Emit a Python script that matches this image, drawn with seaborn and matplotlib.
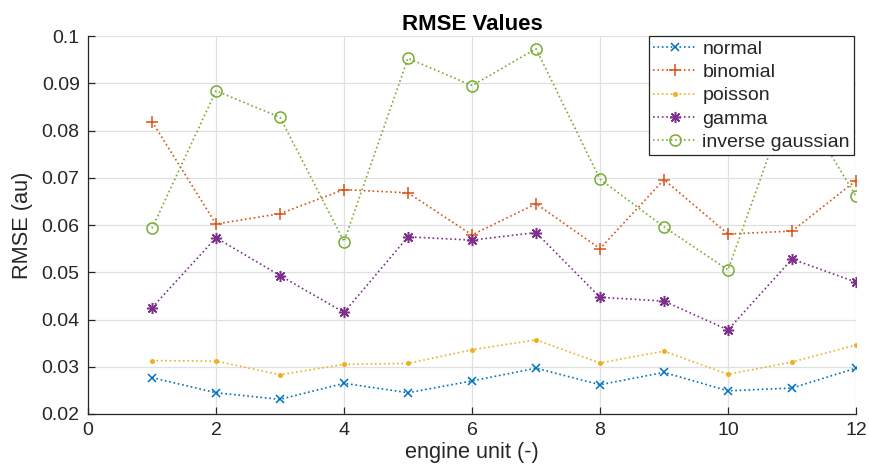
import matplotlib
matplotlib.use("Agg")
import matplotlib.pyplot as plt
from matplotlib.ticker import FuncFormatter
import seaborn as sns
import pandas as pd

units = [1, 2, 3, 4, 5, 6, 7, 8, 9, 10, 11, 12]
normal = [0.0277, 0.0245, 0.0231, 0.0265, 0.0245, 0.0270, 0.0297, 0.0262, 0.0288, 0.0249, 0.0255, 0.0297]
binomial = [0.0819, 0.0602, 0.0624, 0.0675, 0.0668, 0.0579, 0.0645, 0.0550, 0.0696, 0.0581, 0.0587, 0.0694]
poisson = [0.0313, 0.0312, 0.0283, 0.0305, 0.0307, 0.0336, 0.0357, 0.0308, 0.0333, 0.0284, 0.0310, 0.0346]
gamma = [0.0425, 0.0573, 0.0493, 0.0415, 0.0575, 0.0568, 0.0584, 0.0447, 0.0439, 0.0378, 0.0528, 0.0479]
inverse_gaussian = [0.0593, 0.0884, 0.0828, 0.0565, 0.0953, 0.0895, 0.0973, 0.0697, 0.0596, 0.0505, 0.0885, 0.0661]

series_names = ["normal", "binomial", "poisson", "gamma", "inverse gaussian"]
series_values = [normal, binomial, poisson, gamma, inverse_gaussian]
x_ticks = [0, 2, 4, 6, 8, 10, 12]
y_ticks = [0.02, 0.03, 0.04, 0.05, 0.06, 0.07, 0.08, 0.09, 0.1]

colors = ["#0072BD", "#D95319", "#EDB120", "#7E2F8E", "#77AC30"]
# x, plus, point, eight-spoke asterisk, open circle
markers = ["x", "+", ".", (8, 2, 0), "o"]
msizes = [6, 9, 5, 8, 8]

df = pd.concat(
    [pd.DataFrame({"unit": units, "rmse": v, "dist": n}) for n, v in zip(series_names, series_values)],
    ignore_index=True,
)

sns.set_theme(style="white")
plt.rcParams["font.family"] = ["Liberation Sans", "DejaVu Sans"]

fig = plt.figure(figsize=(8.7, 4.76), dpi=100)
ax = fig.add_axes([88 / 870, 1 - 414 / 476, (856 - 88) / 870, (414 - 36) / 476])

for name, c, m, ms in zip(series_names, colors, markers, msizes):
    sub = df[df["dist"] == name]
    sns.lineplot(
        data=sub, x="unit", y="rmse", ax=ax, color=c, linestyle=":", linewidth=1.2,
        marker=m, markersize=ms, markeredgewidth=1.1, markerfacecolor="none" if m == "o" else c,
        markeredgecolor=c, label=name,
    )

ax.set_xlim(0, 12)
ax.set_ylim(0.02, 0.1)
ax.set_xticks(x_ticks)
ax.set_yticks(y_ticks)
ax.yaxis.set_major_formatter(FuncFormatter(lambda v, p: f"{v:g}"))
ax.grid(True, color="#e0e0e0", linewidth=0.9)
ax.set_axisbelow(True)
for s in ["top", "right"]:
    ax.spines[s].set_visible(False)
for s in ["left", "bottom"]:
    ax.spines[s].set_color("#262626")
    ax.spines[s].set_linewidth(0.9)
ax.tick_params(direction="in", length=5, width=0.9, color="#262626", labelsize=14, labelcolor="#262626",
               bottom=True, left=True, pad=6)

ax.set_title("RMSE Values", fontsize=16, fontweight="bold", color="#000000", pad=4)
ax.set_xlabel("engine unit (-)", fontsize=15.7, color="#262626", labelpad=2)
ax.set_ylabel("RMSE (au)", fontsize=15.7, color="#262626", labelpad=6)

leg = ax.legend(loc="upper right", bbox_to_anchor=(0.997, 1.0), fontsize=14, frameon=True, fancybox=False,
                framealpha=1, edgecolor="#262626", borderpad=0.2, labelspacing=0.3, handlelength=2.3,
                handletextpad=0.25, borderaxespad=0.0)
leg.get_frame().set_linewidth(0.9)

fig.savefig("out.png", dpi=100)
